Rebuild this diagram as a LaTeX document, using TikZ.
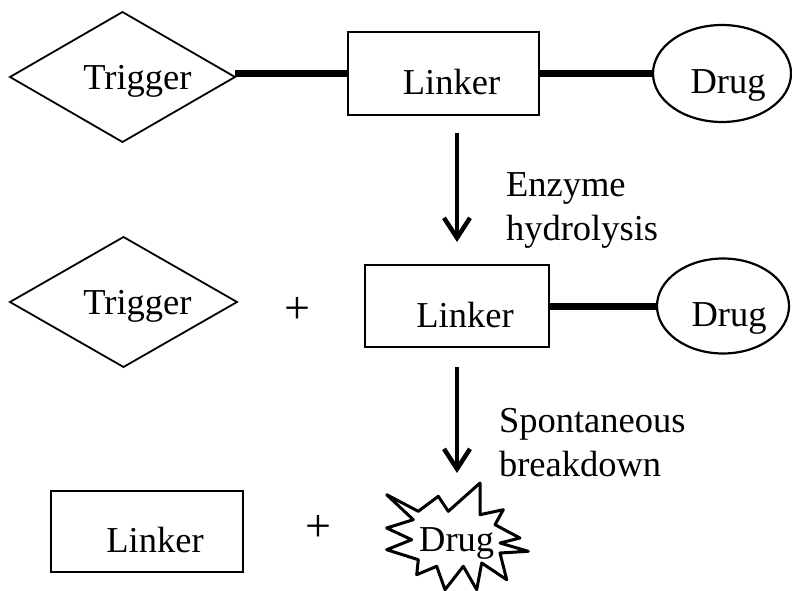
\documentclass[tikz,border=0pt]{standalone}
\usepackage{fontspec}
\setmainfont{Liberation Serif}
\usetikzlibrary{shapes.geometric,arrows.meta}
\begin{document}
\begin{tikzpicture}[x=1bp,y=-1bp,
  txt/.style={font=\fontsize{36.5bp}{43.3bp}\selectfont, inner sep=0pt, outer sep=0pt},
  plussign/.style={font=\fontsize{46bp}{50bp}\selectfont, inner sep=0pt, outer sep=0pt},
  linkbox/.style={txt, draw, rectangle, line width=2.6bp, text height=42bp, text depth=0pt},
  drugoval/.style={txt, draw, ellipse, line width=2.2bp, text height=40bp, text depth=0pt},
  trig/.style={txt, draw, diamond, aspect=1.73, line width=1.8bp, text depth=0pt},
  bond/.style={line width=7bp, line cap=butt},
  arr/.style={line width=4bp, -{Straight Barb[length=20bp,width=26bp,line width=4.5bp]}},
  burst/.style={line width=3bp, line join=round}
]
\useasboundingbox (0,0) rectangle (792,591);

% Row 1
\node[trig, minimum width=225bp, minimum height=130bp] (d1) at (122.5,77) {\hspace*{30bp}Trigger};
\node[linkbox, minimum width=191bp, minimum height=83bp] (l1) at (443.5,73.5) {\hspace*{16bp}Linker};
\node[drugoval, minimum width=138bp, minimum height=97bp] (e1) at (722,73.5) {\hspace*{12bp}Drug};
\draw[bond] (d1.east |- l1.west) -- (l1.west);
\draw[bond] (l1.east) -- (e1.west);

% Arrow 1
\coordinate (a1s) at (457,133);
\coordinate (a1e) at (457,242);
\draw[arr] (a1s) -- (a1e);
\node[txt, align=left, anchor=base west] (t1) at (506,240) {Enzyme\\hydrolysis};

% Row 2
\node[trig, minimum width=227bp, minimum height=130bp] (d2) at (123.5,302) {\hspace*{28bp}Trigger};
\node[plussign] (p2) at (297,311) {+};
\node[linkbox, minimum width=184bp, minimum height=82bp] (l2) at (457,306) {\hspace*{16bp}Linker};
\node[drugoval, minimum width=132bp, minimum height=95bp] (e2) at (723,306) {\hspace*{12bp}Drug};
\draw[bond] (l2.east) -- (e2.west);

% Arrow 2
\coordinate (a2s) at (457,367);
\coordinate (a2e) at (457,473);
\draw[arr] (a2s) -- (a2e);
\node[txt, align=left, anchor=base west] (t2) at (499,476) {Spontaneous\\breakdown};

% Row 3
\node[linkbox, minimum width=192bp, minimum height=81bp] (l3) at (147,531.5) {\hspace*{16bp}Linker};
\node[plussign] (p3) at (318,529) {+};
\draw[burst] (386.7,494.7) -- (418.3,511.3) -- (438.3,496.3) -- (448.3,511.3)
  -- (480,483) -- (480,514.7) -- (503.3,509.7) -- (495,524.7)
  -- (520,538) -- (500,543) -- (528.3,551.3) -- (500,553)
  -- (506.7,579.7) -- (481.7,563) -- (476.7,589.7) -- (463.3,566.3)
  -- (445,589.7) -- (436.7,566.3) -- (416.7,574.7) -- (418.3,559.7)
  -- (386.7,549.7) -- (411.7,539.7) -- (386.7,528) -- (413.3,519.7) -- cycle;
\node[txt, text depth=0pt] (sd) at (456.7,540) {Drug};
\end{tikzpicture}
\end{document}
